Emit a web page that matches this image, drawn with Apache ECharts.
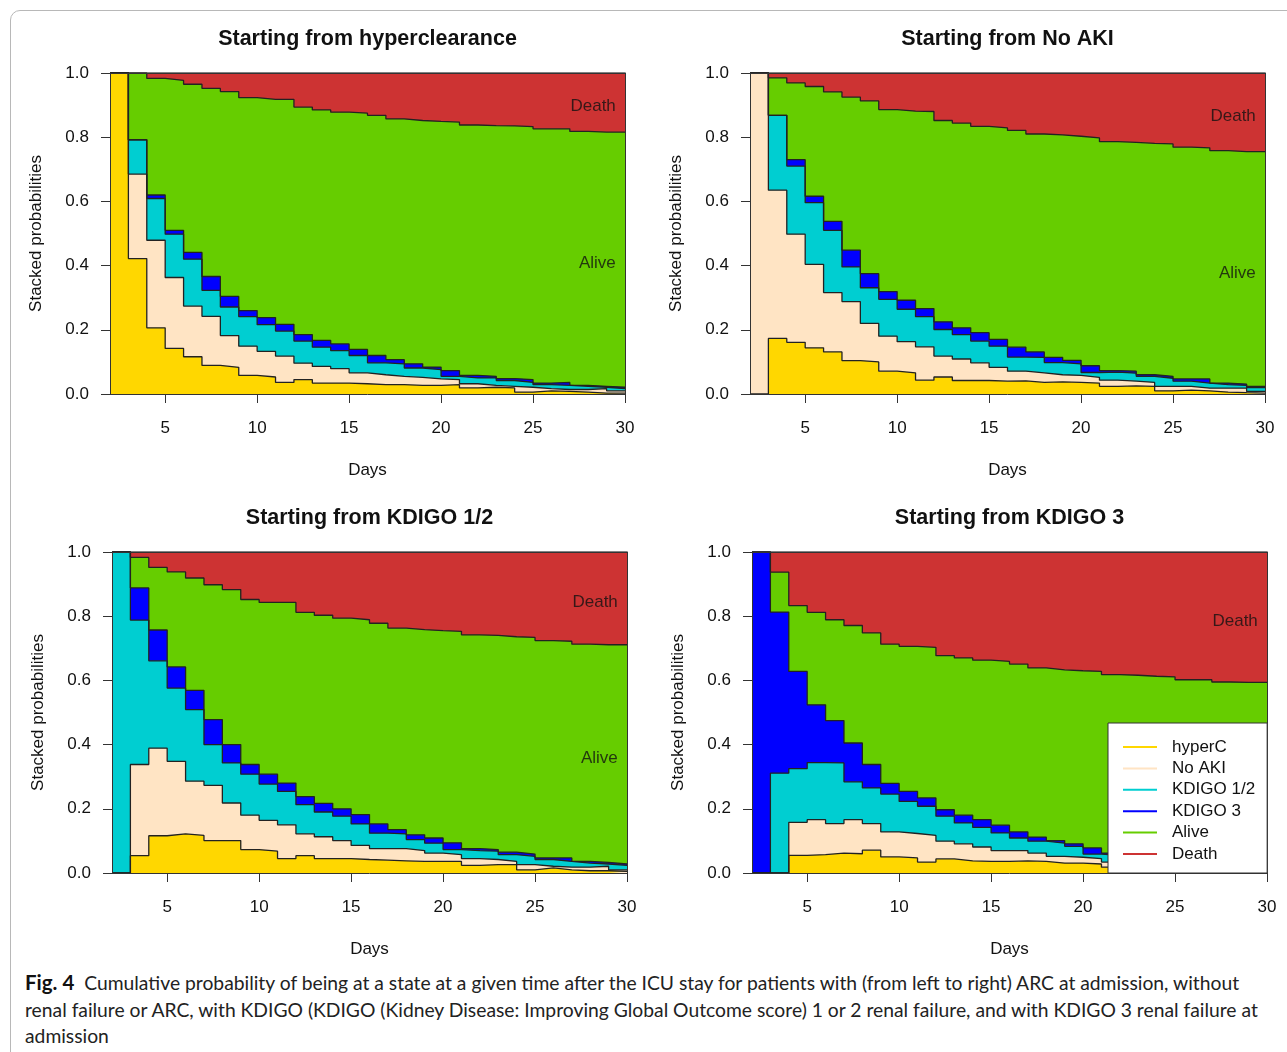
<!DOCTYPE html>
<html>
<head>
<meta charset="utf-8">
<script src="https://cdn.jsdelivr.net/npm/echarts@6/dist/echarts.min.js"></script>
<style>
  html, body { margin: 0; padding: 0; background: #fff; overflow: hidden; }
  #frame { position: absolute; left: 10px; top: 10px; width: 1320px; height: 1100px; border: 1px solid #b8b8b8; border-radius: 10px; }
  #chart { position: absolute; left: 0; top: 0; width: 1287px; height: 965px; }
  #caption { position: absolute; left: 25px; top: 969px; font-family: Lato, 'Open Sans', sans-serif; font-size: 19.3px; line-height: 26.5px; color: #222; white-space: nowrap; }
  #caption b { font-size: 20.5px; color: #111; }
</style>
</head>
<body>
<div id="frame"></div>
<div id="chart"></div>
<div id="caption"><b>Fig. 4</b>&nbsp; Cumulative probability of being at a state at a given time after the ICU stay for patients with (from left to right) ARC at admission, without<br>renal failure or ARC, with KDIGO (KDIGO (Kidney Disease: Improving Global Outcome score) 1 or 2 renal failure, and with KDIGO 3 renal failure at<br>admission</div>
<script>
// days 2..30, value at day d holds over [d, d+1]
const days = [2, 3, 4, 5, 6, 7, 8, 9, 10, 11, 12, 13, 14, 15, 16, 17, 18, 19, 20, 21, 22, 23, 24, 25, 26, 27, 28, 29, 30]
const xTicks = [5, 10, 15, 20, 25, 30]
const stateNames = ['hyperC', 'No AKI', 'KDIGO 1/2', 'KDIGO 3', 'Alive', 'Death']

// Starting from hyperclearance
const hcHyperC = [1, .422, .206, .142, .116, .089, .083, .058, .053, .036, .045, .034, .034, .032, .029, .029, .027, .027, .029, .019, .021, .019, .006, .010, .008, .006, .003, .003, .003]
const hcNoAKI = [0, .263, .273, .221, .158, .153, .099, .091, .080, .082, .051, .052, .045, .034, .031, .026, .025, .020, .016, .013, .006, .005, .015, .007, .006, .008, .014, .007, .007]
const hcKdigo12 = [0, .107, .130, .135, .146, .081, .089, .092, .083, .078, .069, .060, .056, .054, .037, .039, .029, .029, .010, .018, .023, .018, .015, .012, .013, .010, .004, .007, .007]
const hcKdigo3 = [0, 0, .011, .012, .021, .043, .033, .019, .022, .021, .020, .021, .021, .019, .023, .013, .013, .008, .018, .008, .005, .006, .009, .005, .009, .003, .003, .004, .004]
const hcAlive = [0, .208, .363, .467, .524, .586, .638, .663, .680, .701, .709, .718, .722, .736, .748, .750, .758, .765, .774, .780, .781, .787, .788, .792, .790, .791, .792, .795, .795]
const hcDeath = [0, 0, .017, .023, .035, .048, .058, .077, .082, .082, .106, .115, .122, .125, .132, .143, .148, .151, .153, .162, .164, .165, .167, .174, .174, .182, .184, .184, .184]

// Starting from No AKI
const naHyperC = [0, .173, .161, .144, .131, .104, .100, .071, .066, .043, .053, .042, .042, .040, .041, .036, .038, .036, .034, .024, .025, .024, .010, .012, .010, .006, .004, .003, .003]
const naNoAKI = [1, .462, .337, .260, .185, .184, .120, .109, .097, .104, .065, .067, .055, .043, .030, .030, .022, .022, .018, .019, .015, .012, .014, .012, .008, .012, .014, .005, .005]
const naKdigo12 = [0, .233, .212, .192, .194, .108, .111, .115, .101, .094, .083, .076, .068, .066, .044, .048, .038, .036, .015, .025, .025, .019, .025, .016, .016, .011, .009, .012, .012]
const naKdigo3 = [0, 0, .020, .020, .028, .052, .044, .024, .028, .025, .024, .021, .026, .021, .031, .017, .016, .011, .021, .005, .006, .005, .006, .007, .013, .005, .004, .004, .004]
const naAlive = [0, .117, .239, .342, .403, .477, .538, .567, .589, .614, .627, .638, .643, .659, .675, .679, .693, .698, .710, .713, .713, .721, .724, .722, .720, .724, .724, .731, .731]
const naDeath = [0, .015, .031, .042, .059, .075, .087, .114, .119, .120, .148, .156, .166, .171, .179, .190, .193, .197, .202, .214, .216, .219, .221, .231, .233, .242, .245, .245, .245]

// Starting from KDIGO 1/2
const k12HyperC = [0, .054, .116, .122, .117, .101, .101, .073, .068, .045, .054, .045, .045, .042, .040, .038, .036, .036, .036, .024, .026, .026, .010, .016, .010, .007, .007, .005, .005]
const k12NoAKI = [0, .284, .273, .226, .169, .172, .117, .107, .096, .105, .068, .068, .056, .044, .036, .038, .034, .026, .021, .021, .016, .010, .016, .005, .008, .011, .014, .005, .005]
const k12Kdigo12 = [1, .450, .272, .228, .223, .127, .125, .128, .113, .104, .091, .077, .076, .067, .048, .046, .034, .031, .016, .025, .026, .021, .026, .021, .018, .013, .007, .014, .014]
const k12Kdigo3 = [0, .100, .096, .066, .060, .078, .057, .030, .031, .026, .025, .027, .023, .029, .029, .013, .015, .016, .021, .006, .005, .008, .007, .005, .011, .005, .005, .004, .004]
const k12Alive = [0, .095, .195, .296, .350, .420, .483, .514, .535, .563, .574, .586, .594, .607, .625, .628, .639, .646, .659, .666, .667, .671, .675, .677, .675, .677, .678, .683, .683]
const k12Death = [0, .017, .048, .062, .081, .102, .117, .148, .157, .157, .188, .197, .206, .211, .222, .237, .242, .245, .247, .258, .260, .264, .266, .276, .278, .287, .289, .289, .289]

// Starting from KDIGO 3
const k3HyperC = [0, 0, .055, .057, .062, .060, .071, .050, .047, .034, .044, .038, .036, .036, .038, .036, .031, .031, .028, .018, .020, .018, .008, .010, .008, .006, .004, .003, .003]
const k3NoAKI = [0, 0, .103, .109, .092, .106, .083, .078, .076, .083, .055, .053, .045, .034, .032, .026, .021, .018, .017, .016, .012, .010, .012, .008, .007, .008, .012, .005, .005]
const k3Kdigo12 = [0, .311, .167, .178, .189, .118, .111, .118, .100, .091, .078, .065, .061, .055, .039, .037, .041, .034, .014, .021, .021, .018, .020, .016, .015, .012, .008, .010, .010]
const k3Kdigo3 = [1, .502, .303, .180, .132, .121, .073, .033, .031, .026, .020, .024, .024, .024, .019, .013, .008, .008, .019, .007, .007, .006, .008, .006, .008, .004, .003, .004, .004]
const k3Alive = [0, .124, .205, .288, .314, .366, .410, .434, .452, .469, .480, .490, .497, .510, .523, .527, .532, .539, .550, .556, .556, .561, .563, .562, .564, .565, .567, .572, .572]
const k3Death = [0, .063, .167, .188, .211, .229, .252, .287, .294, .297, .323, .330, .337, .341, .349, .361, .367, .370, .372, .382, .384, .387, .389, .398, .398, .405, .406, .406, .406]

const stateColors = ['#FFD700', '#FFE4C4', '#00CED1', '#0000FF', '#66CD00', '#CD3333']
const font = "'Liberation Sans', Arial, sans-serif"
const labelDay = 29.5

const panels = [
  { title: 'Starting from hyperclearance', states: [hcHyperC, hcNoAKI, hcKdigo12, hcKdigo3, hcAlive, hcDeath], left: 110, top: 73, aliveLabel: true },
  { title: 'Starting from No AKI', states: [naHyperC, naNoAKI, naKdigo12, naKdigo3, naAlive, naDeath], left: 750, top: 73, aliveLabel: true },
  { title: 'Starting from KDIGO 1/2', states: [k12HyperC, k12NoAKI, k12Kdigo12, k12Kdigo3, k12Alive, k12Death], left: 112, top: 552, aliveLabel: true },
  { title: 'Starting from KDIGO 3', states: [k3HyperC, k3NoAKI, k3Kdigo12, k3Kdigo3, k3Alive, k3Death], left: 752, top: 552, aliveLabel: false }
]
const gridW = 515
const gridH = 321

const chart = echarts.init(document.getElementById('chart'), null, { renderer: 'canvas' })

let grids = [], xAxes = [], yAxes = [], titles = [], series = []
const frameLine = { show: true, onZero: false, lineStyle: { color: '#333', width: 1 } }

panels.forEach((p, i) => {
  grids.push({ left: p.left, top: p.top, width: gridW, height: gridH })
  titles.push({
    text: p.title, left: p.left + gridW / 2, top: p.top - 45, textAlign: 'center', padding: 0,
    textStyle: { fontSize: 21.5, fontWeight: 'bold', fontFamily: font, color: '#111' }
  })
  xAxes[i] = {
    type: 'value', gridIndex: i, min: 2, max: 30, z: 20,
    axisLine: frameLine,
    axisTick: { show: true, customValues: xTicks, length: 9, lineStyle: { color: '#333' } },
    axisLabel: { customValues: xTicks, margin: 26, fontSize: 17, color: '#111', fontFamily: font },
    splitLine: { show: false },
    name: 'Days', nameLocation: 'middle', nameGap: 68,
    nameTextStyle: { fontSize: 17, color: '#111', fontFamily: font }
  }
  xAxes[i + 4] = {
    type: 'value', gridIndex: i, min: 2, max: 30, position: 'top', z: 20,
    axisLine: frameLine, axisTick: { show: false }, axisLabel: { show: false }, splitLine: { show: false }
  }
  yAxes[i] = {
    type: 'value', gridIndex: i, min: 0, max: 1, interval: 0.2, z: 20,
    axisLine: frameLine,
    axisTick: { show: true, length: 9, lineStyle: { color: '#333' } },
    axisLabel: { margin: 21, fontSize: 17, color: '#111', fontFamily: font, formatter: v => v.toFixed(1) },
    splitLine: { show: false },
    name: 'Stacked probabilities', nameLocation: 'middle', nameGap: 65,
    nameTextStyle: { fontSize: 17, color: '#111', fontFamily: font }
  }
  yAxes[i + 4] = {
    type: 'value', gridIndex: i, min: 0, max: 1, position: 'right', z: 20,
    axisLine: frameLine, axisTick: { show: false }, axisLabel: { show: false }, splitLine: { show: false }
  }

  // cumulative tops of each state band (hyperC at bottom, Death at top)
  const cum = []
  p.states.forEach((vals, s) => {
    cum[s] = vals.map((v, k) => v + (s > 0 ? cum[s - 1][k] : 0))
  })
  // draw from the top band down so each lower band covers the one above
  for (let s = 5; s >= 0; s--) {
    series.push({
      name: stateNames[s], type: 'line', step: 'end',
      xAxisIndex: i, yAxisIndex: i, symbol: 'none',
      color: stateColors[s],
      lineStyle: { color: '#222', width: 1.3 },
      areaStyle: { color: stateColors[s], opacity: 1, origin: 'start' },
      data: days.map((d, k) => [d, Math.min(cum[s][k], 1)]),
      silent: true, animation: false
    })
  }

  // region labels at the right end, centred in their band
  const last = days.length - 1
  const labels = [{ name: 'Death', value: [labelDay, (cum[4][last] + 1) / 2] }]
  if (p.aliveLabel) labels.push({ name: 'Alive', value: [labelDay, (cum[3][last] + cum[4][last]) / 2] })
  series.push({
    type: 'scatter', xAxisIndex: i, yAxisIndex: i, symbolSize: 0, z: 15, silent: true, animation: false,
    label: { show: true, position: 'left', distance: 0, offset: [0, 4], formatter: '{b}', fontSize: 17, color: '#111', fontFamily: font },
    data: labels
  })
})

chart.setOption({
  animation: false,
  title: titles,
  grid: grids,
  xAxis: xAxes,
  yAxis: yAxes,
  legend: {
    data: stateNames.map((n, s) => ({ name: n, itemStyle: { color: stateColors[s], borderWidth: 0 } })),
    orient: 'vertical', left: 1108, top: 723, z: 30,
    icon: 'rect', itemWidth: 34, itemHeight: 2, itemGap: 1.4,
    padding: [14, 12, 9, 15],
    backgroundColor: '#fff', borderColor: '#333', borderWidth: 1, borderRadius: 0,
    selectedMode: false,
    itemStyle: { borderWidth: 0 },
    textStyle: { fontSize: 17, lineHeight: 20, color: '#111', fontFamily: font, padding: [0, 0, 0, 10] }
  },
  series: series
})
</script>
</body>
</html>
